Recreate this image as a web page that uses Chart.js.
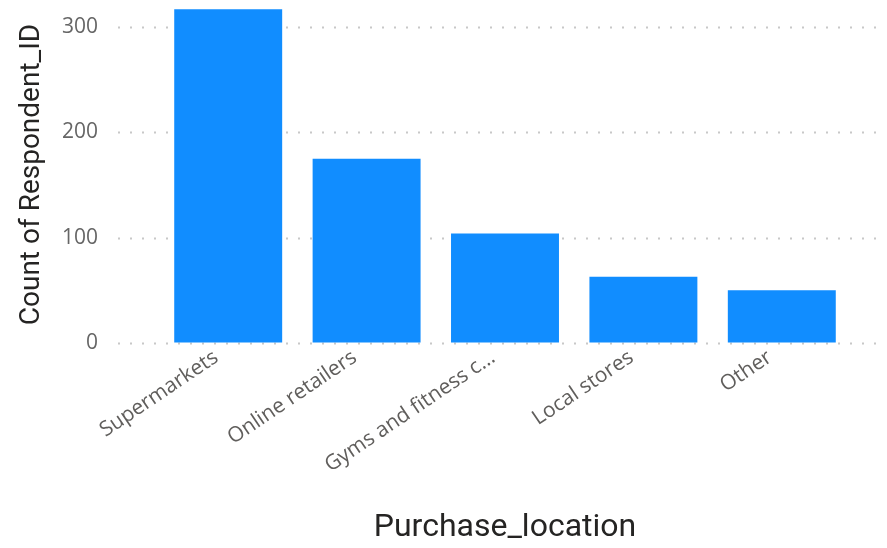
<!DOCTYPE html>
<html>
<head>
<meta charset="utf-8">
<script src="https://cdn.jsdelivr.net/npm/chart.js@4.4.1/dist/chart.umd.min.js"></script>
<style>
  html, body { margin: 0; padding: 0; background: #ffffff; }
  #wrap { width: 887px; height: 548px; }
</style>
</head>
<body>
<div id="wrap"><canvas id="grafico"></canvas></div>
<script>
const locais = ['Supermarkets', 'Online retailers', 'Gyms and fitness c...', 'Local stores', 'Other']
const contagens = [317, 175, 104, 63, 50]
const marcasEixoY = [0, 100, 200, 300]

// dotted gridlines, a bit wider than the plot area
const linhasPontilhadas = {
    id: 'linhasPontilhadas',
    beforeDatasetsDraw(chart) {
        const ctx = chart.ctx
        const area = chart.chartArea
        const escalaY = chart.scales.y
        ctx.save()
        ctx.strokeStyle = '#c8c8c8'
        ctx.lineWidth = 2
        ctx.setLineDash([2, 10])
        escalaY.ticks.forEach(function (marca) {
            const y = Math.round(escalaY.getPixelForValue(marca.value)) + 0.5
            ctx.beginPath()
            ctx.moveTo(area.left - 41, y)
            ctx.lineTo(area.right + 29, y)
            ctx.stroke()
        })
        ctx.restore()
    }
}

const ctx = document.getElementById('grafico').getContext('2d')

const grafico = new Chart(ctx, {
    type: 'bar',
    data: {
        labels: locais,
        datasets: [{
            label: 'Count of Respondent_ID',
            data: contagens,
            backgroundColor: '#118DFF',
            categoryPercentage: 1,
            barPercentage: 0.78
        }]
    },
    options: {
        responsive: true,
        maintainAspectRatio: false,
        animation: false,
        layout: { padding: { top: 6, right: 36, bottom: 0, left: 0 } },
        plugins: {
            legend: { display: false },
            tooltip: { enabled: false }
        },
        scales: {
            x: {
                grid: { display: false, drawTicks: false },
                border: { display: false },
                ticks: {
                    color: '#605E5C',
                    font: { family: 'Open Sans', size: 21 },
                    minRotation: 34,
                    maxRotation: 34,
                    padding: 2,
                    labelOffset: -12,
                    autoSkip: false
                },
                title: {
                    display: true,
                    text: 'Purchase_location',
                    color: '#252423',
                    font: { family: 'Roboto', size: 32 },
                    padding: { top: 0, bottom: 1 }
                },
                afterFit(scale) { scale.height = 205 }
            },
            y: {
                min: 0,
                max: 320,
                grid: {
                    display: true,
                    drawOnChartArea: false,
                    drawTicks: true,
                    tickLength: 61,
                    tickColor: 'rgba(0,0,0,0)'
                },
                border: { display: false },
                ticks: {
                    stepSize: 100,
                    color: '#666666',
                    // small lineHeight keeps the plot area from being pushed down
                    font: { family: 'Open Sans', size: 21, lineHeight: 0.5 },
                    padding: 0
                },
                afterBuildTicks(scale) {
                    scale.ticks = marcasEixoY.map(function (v) { return { value: v } })
                },
                title: {
                    display: true,
                    text: 'Count of Respondent_ID',
                    color: '#252423',
                    font: { family: 'Roboto', size: 28 },
                    padding: { top: 15, bottom: 0 }
                },
                afterFit(scale) { scale.width = 159 }
            }
        }
    },
    plugins: [linhasPontilhadas]
})
</script>
</body>
</html>
